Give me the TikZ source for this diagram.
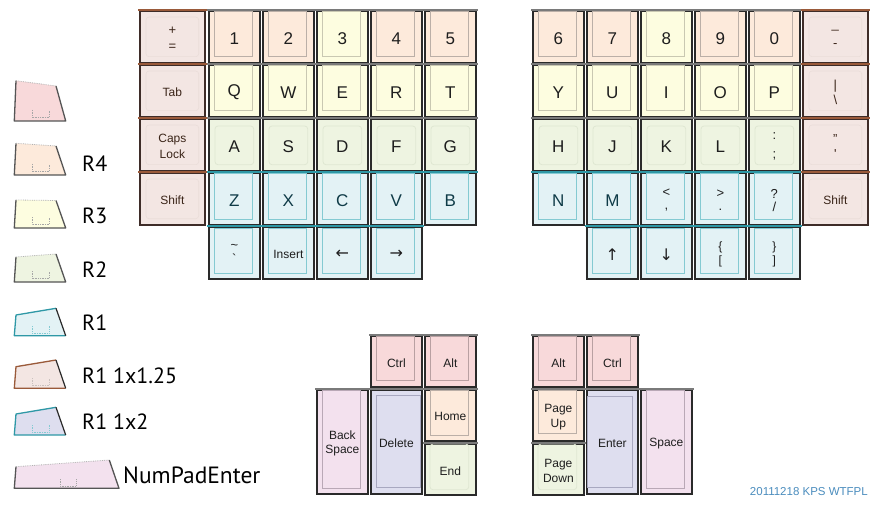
\documentclass[tikz,border=0pt]{standalone}
\usepackage{fontspec}
\setmainfont{Liberation Sans}
\newfontfamily\legfont{PT Sans}
\newfontfamily\arrfont{DejaVu Sans}
\definecolor{cR5}{HTML}{F8D9DA}\definecolor{cR5in}{HTML}{B9A0A2}
\definecolor{cR4}{HTML}{FDEADB}\definecolor{cR4in}{HTML}{BBAFA7}
\definecolor{cR3}{HTML}{FDFDE0}\definecolor{cR3in}{HTML}{C9C8B2}
\definecolor{cR2}{HTML}{EEF4E1}\definecolor{cR2in}{HTML}{DFE7D2}
\definecolor{cR1}{HTML}{E3F2F5}\definecolor{cR1in}{HTML}{84CAD2}\definecolor{cR1top}{HTML}{2E98A6}
\definecolor{cMod}{HTML}{F3E6E3}\definecolor{cModin}{HTML}{EADDD9}\definecolor{cModtop}{HTML}{9A5A3A}\definecolor{modedge}{HTML}{3E2C28}
\definecolor{cLav}{HTML}{DEDEEF}\definecolor{cLavin}{HTML}{A8A8C0}
\definecolor{cNpe}{HTML}{F3E1EE}\definecolor{cNpein}{HTML}{B9A8B6}
\definecolor{keyedge}{HTML}{2A2A2A}\definecolor{greytop}{HTML}{7A7A7A}
\definecolor{txt}{HTML}{1E1E1E}\definecolor{txtteal}{HTML}{0F3B47}\definecolor{txtbrown}{HTML}{3A2418}
\definecolor{footer}{HTML}{4B8DBE}\definecolor{legedge}{HTML}{555555}
\tikzset{
  keybase/.style={draw=keyedge, line width=1.7pt, inner sep=0pt, anchor=north west},
  r5/.style={keybase, fill=cR5}, r5 in/.style={draw=cR5in, line width=0.8pt}, r5 top/.style={draw=greytop, line width=1.8pt},
  r4/.style={keybase, fill=cR4}, r4 in/.style={draw=cR4in, line width=0.8pt}, r4 top/.style={draw=greytop, line width=1.8pt},
  r3/.style={keybase, fill=cR3}, r3 in/.style={draw=cR3in, line width=0.8pt}, r3 top/.style={draw=greytop, line width=1.8pt},
  r2/.style={keybase, fill=cR2}, r2 in/.style={draw=cR2in, line width=0.8pt, rounded corners=3pt}, r2 top/.style={draw=greytop, line width=1.8pt},
  r1/.style={keybase, fill=cR1}, r1 in/.style={draw=cR1in, line width=0.9pt}, r1 top/.style={draw=cR1top, line width=2.2pt},
  mod/.style={keybase, fill=cMod, draw=modedge}, mod in/.style={draw=cModin, line width=0.6pt, rounded corners=3pt}, mod top/.style={draw=cModtop, line width=2.2pt},
  lav/.style={keybase, fill=cLav}, lav in/.style={draw=cLavin, line width=0.8pt}, lav top/.style={draw=greytop, line width=1.8pt},
  npe/.style={keybase, fill=cNpe}, npe in/.style={draw=cNpein, line width=0.8pt}, npe top/.style={draw=greytop, line width=1.8pt},
  big/.style={font=\fontsize{17}{17}\selectfont, text=txt, inner sep=0pt},
  bigc/.style={font=\fontsize{17}{17}\selectfont, text=txtteal, inner sep=0pt},
  arr/.style={font=\arrfont\fontsize{16}{16}\selectfont, text=txt, inner sep=0pt},
  sm/.style={font=\fontsize{12}{14.7}\selectfont, text=txt, align=center, inner sep=0pt},
  smb/.style={font=\fontsize{12}{16}\selectfont, text=txtbrown, align=center, inner sep=0pt},
  sym/.style={font=\fontsize{13}{#1}\selectfont, text=txt, align=center, inner sep=0pt},
  symsm/.style={font=\fontsize{12}{#1}\selectfont, text=txt, align=center, inner sep=0pt},
  modsym/.style={font=\fontsize{13}{#1}\selectfont, text=txtbrown, align=center, inner sep=0pt},
  legtxt/.style={font=\legfont\fontsize{22}{22}\selectfont, text=black, anchor=west, inner sep=0pt},
  stem/.style={draw=gray!70, densely dotted, line width=0.7pt},
  legtop/.style={draw=gray!60, densely dotted, line width=0.8pt},
}
\def\myinner#1#2#3,#4,#5,#6\relax{\draw[#2 in] ([xshift=#3pt,yshift=-#4pt]#1.north west) rectangle ([xshift=-#5pt,yshift=#6pt]#1.south east);}
\newcommand{\mykey}[9][6,1,8,7]{%
  \node[#3, minimum width=#6pt, minimum height=#7pt] (#2) at (#4,#5) {};
  \myinner{#2}{#3}#1\relax
  \draw[#3 top] ([xshift=-0.85pt]#2.north west) -- ([xshift=0.85pt]#2.north east);
  \node[#8] (#2t) at ([yshift=-1.5pt]#2.center) {#9};
}
\begin{document}
\begin{tikzpicture}[x=1pt,y=-1pt]
\fill[white] (0,0) rectangle (880,505);
\useasboundingbox (0,0) rectangle (880,505);
% ---------- row 0
\mykey[7,7,7,7]{kplus}{mod}{139}{10}{65}{52}{modsym=16}{+\\=}
\mykey{k1}{r4}{208}{10}{51}{52}{big}{1}
\mykey{k2}{r4}{262}{10}{51}{52}{big}{2}
\mykey{k3}{r3}{316}{10}{51}{52}{big}{3}
\mykey{k4}{r4}{370}{10}{51}{52}{big}{4}
\mykey{k5}{r4}{424}{10}{51}{52}{big}{5}
\mykey{k6}{r4}{532}{10}{51}{52}{big}{6}
\mykey{k7}{r4}{586}{10}{51}{52}{big}{7}
\mykey{k8}{r3}{640}{10}{51}{52}{big}{8}
\mykey{k9}{r4}{694}{10}{51}{52}{big}{9}
\mykey{k0}{r4}{748}{10}{51}{52}{big}{0}
\mykey[7,7,7,7]{kminus}{mod}{802}{10}{65}{52}{modsym=19}{\_\\-}
% ---------- row 1
\mykey[7,7,7,7]{ktab}{mod}{139}{64}{65}{52}{smb}{Tab}
\mykey{kq}{r3}{208}{64}{51}{52}{big}{Q}
\mykey{kw}{r3}{262}{64}{51}{52}{big}{W}
\mykey{ke}{r3}{316}{64}{51}{52}{big}{E}
\mykey{kr}{r3}{370}{64}{51}{52}{big}{R}
\mykey{kt}{r3}{424}{64}{51}{52}{big}{T}
\mykey{ky}{r3}{532}{64}{51}{52}{big}{Y}
\mykey{ku}{r3}{586}{64}{51}{52}{big}{U}
\mykey{ki}{r3}{640}{64}{51}{52}{big}{I}
\mykey{ko}{r3}{694}{64}{51}{52}{big}{O}
\mykey{kp}{r3}{748}{64}{51}{52}{big}{P}
\mykey[7,7,7,7]{kbar}{mod}{802}{64}{65}{52}{modsym=15.5}{|\\\textbackslash}
% ---------- row 2
\mykey[7,7,7,7]{kcaps}{mod}{139}{118}{65}{52}{smb}{Caps\\Lock}
\mykey[7,8,7,7]{ka}{r2}{208}{118}{51}{52}{big}{A}
\mykey[7,8,7,7]{ks}{r2}{262}{118}{51}{52}{big}{S}
\mykey[7,8,7,7]{kd}{r2}{316}{118}{51}{52}{big}{D}
\mykey[7,8,7,7]{kf}{r2}{370}{118}{51}{52}{big}{F}
\mykey[7,8,7,7]{kg}{r2}{424}{118}{51}{52}{big}{G}
\mykey[7,8,7,7]{kh}{r2}{532}{118}{51}{52}{big}{H}
\mykey[7,8,7,7]{kj}{r2}{586}{118}{51}{52}{big}{J}
\mykey[7,8,7,7]{kk}{r2}{640}{118}{51}{52}{big}{K}
\mykey[7,8,7,7]{kl}{r2}{694}{118}{51}{52}{big}{L}
\mykey[7,8,7,7]{ksemi}{r2}{748}{118}{51}{52}{sym=19}{:\\;}
\mykey[7,7,7,7]{kquote}{mod}{802}{118}{65}{52}{modsym=15}{"\\\textquotesingle}
% ---------- row 3
\mykey[7,7,7,7]{kshl}{mod}{139}{172}{65}{52}{smb}{Shift}
\mykey[6,1,8,6]{kz}{r1}{208}{172}{51}{52}{bigc}{Z}
\mykey[6,1,8,6]{kx}{r1}{262}{172}{51}{52}{bigc}{X}
\mykey[6,1,8,6]{kc}{r1}{316}{172}{51}{52}{bigc}{C}
\mykey[6,1,8,6]{kv}{r1}{370}{172}{51}{52}{bigc}{V}
\mykey[6,1,8,6]{kb}{r1}{424}{172}{51}{52}{bigc}{B}
\mykey[6,1,8,6]{kn}{r1}{532}{172}{51}{52}{bigc}{N}
\mykey[6,1,8,6]{km}{r1}{586}{172}{51}{52}{bigc}{M}
\mykey[6,1,8,6]{kcomma}{r1}{640}{172}{51}{52}{sym=13}{<\\,}
\mykey[6,1,8,6]{kdot}{r1}{694}{172}{51}{52}{sym=13}{>\\.}
\mykey[6,1,8,6]{kslash}{r1}{748}{172}{51}{52}{sym=13}{?\\/}
\mykey[7,7,7,7]{kshr}{mod}{802}{172}{65}{52}{smb}{Shift}
% ---------- row 4
\mykey[6,2,8,6]{ktilde}{r1}{208}{226}{51}{52}{sym=14}{\textasciitilde\\\textasciigrave}
\mykey[6,2,8,6]{kins}{r1}{262}{226}{51}{52}{sm}{Insert}
\mykey[6,2,8,6]{kleft}{r1}{316}{226}{51}{52}{arr}{←}
\mykey[6,2,8,6]{kright}{r1}{370}{226}{51}{52}{arr}{→}
\mykey[6,2,8,6]{kup}{r1}{586}{226}{51}{52}{arr}{↑}
\mykey[6,2,8,6]{kdown}{r1}{640}{226}{51}{52}{arr}{↓}
\mykey[6,2,8,6]{kbrl}{r1}{694}{226}{51}{52}{symsm=13.5}{\{\\{[}}
\mykey[6,2,8,6]{kbrr}{r1}{748}{226}{51}{52}{symsm=13.5}{\}\\{]}}
% ---------- thumb left
\mykey{kctrll}{r5}{370}{335}{51}{51}{sm}{Ctrl}
\mykey{kaltl}{r5}{424}{335}{51}{51}{sm}{Alt}
\mykey[6,1,8,6]{kbksp}{npe}{316}{389}{51}{104}{sm}{Back\\Space}
\mykey[6,6,2,7]{kdel}{lav}{370}{389}{51}{104}{sm}{Delete}
\mykey[6,1,8,6]{khome}{r4}{424}{389}{51}{51}{sm}{Home}
\mykey[6,1,8,6]{kend}{r2}{424}{443}{51}{51}{sm}{End}
% ---------- thumb right
\mykey{kaltr}{r5}{532}{335}{51}{51}{sm}{Alt}
\mykey{kctrlr}{r5}{586}{335}{51}{51}{sm}{Ctrl}
\mykey[6,1,8,8]{kpgup}{r4}{532}{389}{51}{51}{sm}{Page\\Up}
\mykey[6,1,8,6]{kpgdn}{r2}{532}{443}{51}{51}{sm}{Page\\Down}
\mykey[1,7,6,7]{kenter}{lav}{586}{389}{51}{104}{sm}{Enter}
\mykey[6,1,8,6]{kspace}{npe}{640}{389}{51}{104}{sm}{Space}
% ---------- legend
% R5
\fill[cR5] (16,80.7) -- (56,86) -- (65.7,121) -- (14.3,121) -- cycle;
\draw[legedge, line width=1.3pt, line join=round] (16,80.7) -- (14.3,121) -- (65.7,121) -- (56,86);
\draw[legtop] (16,80.7) -- (56,86);
\draw[stem] (32,110) -- (32,117.5) -- (49,117.5) -- (49,110);
% R4
\fill[cR4] (16,143.3) -- (56,146) -- (65.7,175) -- (14.3,175) -- cycle;
\draw[legedge, line width=1.3pt, line join=round] (16,143.3) -- (14.3,175) -- (65.7,175) -- (56,146);
\draw[legtop] (16,143.3) -- (56,146);
\draw[stem] (32,164) -- (32,171.5) -- (49,171.5) -- (49,164);
\node[legtxt] (lr4) at (82,164) {R4};
% R3
\fill[cR3] (16,200) -- (56,200.5) -- (65.7,228) -- (14.3,228) -- cycle;
\draw[legedge, line width=1.3pt, line join=round] (16,200) -- (14.3,228) -- (65.7,228) -- (56,200.5);
\draw[legtop] (16,200) -- (56,200.5);
\draw[stem] (32,217) -- (32,224.5) -- (49,224.5) -- (49,217);
\node[legtxt] (lr3) at (82,216) {R3};
% R2
\fill[cR2] (16,257) -- (56,254) -- (65.7,282) -- (14.3,282) -- cycle;
\draw[legedge, line width=1.3pt, line join=round] (16,257) -- (14.3,282) -- (65.7,282) -- (56,254);
\draw[legtop] (16,257) -- (56,254);
\draw[stem] (32,271) -- (32,278.5) -- (49,278.5) -- (49,271);
\node[legtxt] (lr2) at (82,270) {R2};
% R1
\fill[cR1] (16,315) -- (56,308.3) -- (65.7,335.7) -- (14.3,335.7) -- cycle;
\draw[cR1top, line width=1.3pt, line join=round] (56,308.3) -- (16,315) -- (14.3,335.7) -- (65.7,335.7);
\draw[keyedge, line width=1.2pt] (65.7,335.7) -- (56,308.3);
\draw[stem, draw=cR1in] (32,326) -- (32,333) -- (49,333) -- (49,326);
\node[legtxt] (lr1) at (82,322.5) {R1};
% R1 1x1.25
\fill[cMod] (16,366.7) -- (56,360) -- (65.7,388.3) -- (14.3,388.3) -- cycle;
\draw[cModtop, line width=1.3pt, line join=round] (56,360) -- (16,366.7) -- (14.3,388.3) -- (65.7,388.3);
\draw[keyedge, line width=1.2pt] (65.7,388.3) -- (56,360);
\draw[stem, draw=cModin!70!gray] (32,378) -- (32,385.5) -- (49,385.5) -- (49,378);
\node[legtxt] (lr1m) at (82,375.3) {R1 1x1.25};
% R1 1x2
\fill[cLav] (16,414) -- (56,407.3) -- (65.7,435) -- (14.3,435) -- cycle;
\draw[cR1top, line width=1.3pt, line join=round] (56,407.3) -- (16,414) -- (14.3,435) -- (65.7,435);
\draw[keyedge, line width=1.2pt] (65.7,435) -- (56,407.3);
\draw[stem, draw=cR1in] (32,425) -- (32,432) -- (49,432) -- (49,425);
\node[legtxt] (lr1d) at (82,421.7) {R1 1x2};
% NumPadEnter
\fill[cNpe] (16,466.7) -- (109.3,460) -- (119,488.3) -- (14.3,488.3) -- cycle;
\draw[legedge, line width=1.3pt, line join=round] (16,466.7) -- (14.3,488.3) -- (119,488.3) -- (109.3,460);
\draw[legtop] (16,466.7) -- (109.3,460);
\draw[stem] (60,479) -- (60,486) -- (76,486) -- (76,479);
\node[legtxt, font=\legfont\fontsize{23.5}{23.5}\selectfont] (lnpe) at (123,475.5) {NumPadEnter};
% footer
\node[font=\fontsize{11.5}{12}\selectfont, text=footer, anchor=east, inner sep=0pt] (foot) at (868,492) {20111218 KPS WTFPL};
\end{tikzpicture}
\end{document}
